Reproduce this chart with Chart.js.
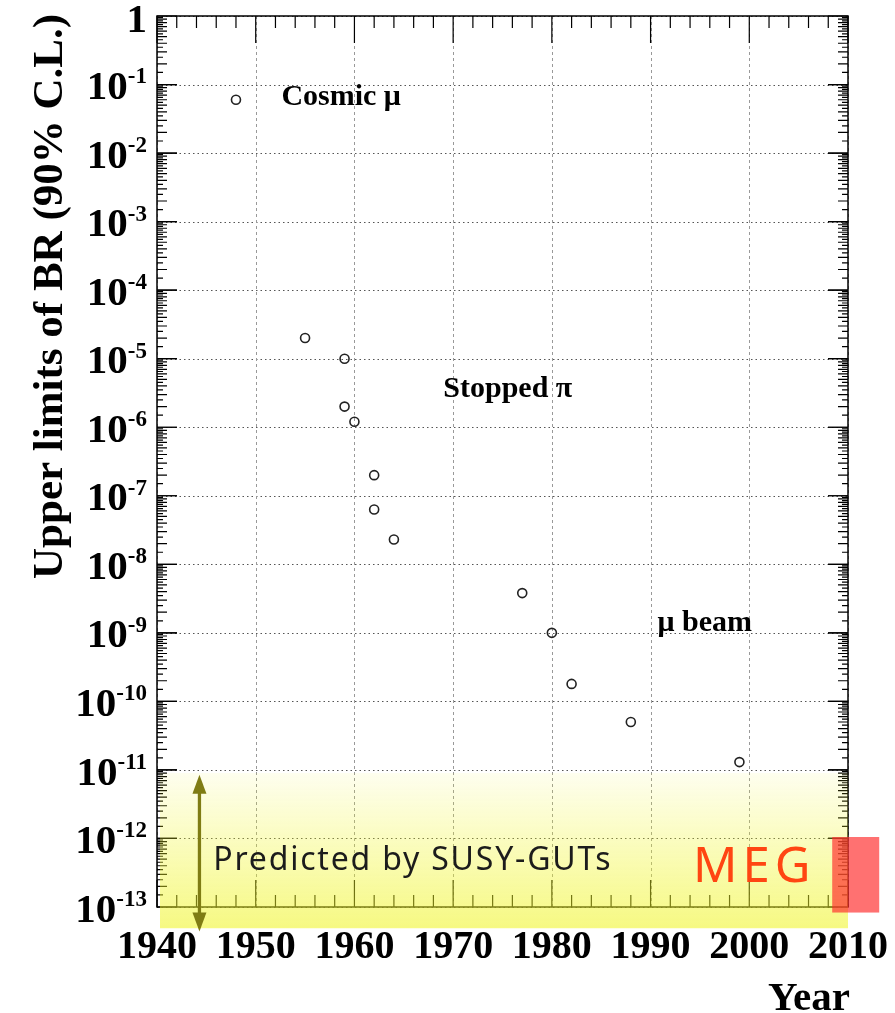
<!DOCTYPE html>
<html>
<head>
<meta charset="utf-8">
<script src="https://cdn.jsdelivr.net/npm/chart.js@4"></script>
<style>
  html, body { margin: 0; padding: 0; background: #fff; }
  #wrap { width: 895px; height: 1013px; }
</style>
</head>
<body>
<div id="wrap"><canvas id="brChart" width="895" height="1013"></canvas></div>
<script>
  // Upper limits of BR(mu -> e gamma) by year
  const years  = [1948, 1955, 1959, 1959, 1960, 1962, 1962, 1964, 1977, 1980, 1982, 1988, 1999];
  const limits = [6e-2, 2e-5, 1e-5, 2e-6, 1.2e-6, 2e-7, 6.3e-8, 2.3e-8, 3.8e-9, 1e-9, 1.8e-10, 5e-11, 1.3e-11];

  const xTicks = [1940, 1950, 1960, 1970, 1980, 1990, 2000, 2010];
  const yExponents = [0, -1, -2, -3, -4, -5, -6, -7, -8, -9, -10, -11, -12, -13];

  // text labels placed in data coordinates
  const labelText = ['Cosmic \u03bc', 'Stopped \u03c0', '\u03bc beam'];
  const labelYear = [1952.6, 1969.0, 1990.7];
  const labelBR   = [6.6e-2, 3.6e-6, 1.4e-9];

  const serif = '"Liberation Serif", "Times New Roman", serif';
  const sans = '"Noto Sans", "Open Sans", sans-serif';

  const decorPlugin = {
    id: 'rootStyle',
    beforeDatasetsDraw(chart) {
      const { ctx, chartArea: a, scales: { x, y } } = chart;
      ctx.save();
      // horizontal dotted grid at decades
      ctx.strokeStyle = '#555';
      ctx.lineWidth = 1;
      ctx.setLineDash([1.5, 3]);
      yExponents.forEach(e => {
        const py = Math.round(y.getPixelForValue(Math.pow(10, e))) + 0.5;
        ctx.beginPath(); ctx.moveTo(a.left, py); ctx.lineTo(a.right, py); ctx.stroke();
      });
      // vertical dashed grid at decades of years
      ctx.strokeStyle = '#999';
      ctx.setLineDash([3, 3]);
      xTicks.forEach(t => {
        const px = Math.round(x.getPixelForValue(t)) + 0.5;
        ctx.beginPath(); ctx.moveTo(px, a.top); ctx.lineTo(px, a.bottom); ctx.stroke();
      });
      ctx.restore();
    },
    afterDatasetsDraw(chart) {
      const { ctx, chartArea: a, scales: { x, y } } = chart;
      ctx.save();
      ctx.strokeStyle = '#000';
      ctx.lineWidth = 1.5;
      ctx.strokeRect(a.left, a.top, a.right - a.left, a.bottom - a.top);

      // y ticks (log), both sides, inward
      ctx.lineWidth = 1.2;
      for (let e = 0; e > -13; e--) {
        const base = Math.pow(10, e - 1);
        for (let m = 1; m <= 10; m += 0.5) {
          const py = y.getPixelForValue(m * base);
          let len = (m % 1 === 0) ? 10 : 6;
          if (m === 1 || m === 10) len = 20;
          ctx.beginPath();
          ctx.moveTo(a.left, py); ctx.lineTo(a.left + len, py);
          ctx.moveTo(a.right, py); ctx.lineTo(a.right - len, py);
          ctx.stroke();
        }
      }
      // x ticks every 2 years, bottom and top, inward
      for (let t = 1940; t <= 2010; t += 2) {
        const px = x.getPixelForValue(t);
        const len = (t % 10 === 0) ? 27 : 12;
        ctx.beginPath();
        ctx.moveTo(px, a.bottom); ctx.lineTo(px, a.bottom - len);
        ctx.moveTo(px, a.top); ctx.lineTo(px, a.top + len);
        ctx.stroke();
      }

      // y tick labels 1, 10^-n
      ctx.fillStyle = '#000';
      ctx.textBaseline = 'middle';
      yExponents.forEach(e => {
        const py = y.getPixelForValue(Math.pow(10, e));
        const rightX = 147;
        if (e === 0) {
          ctx.font = 'bold 41px ' + serif;
          ctx.textAlign = 'right';
          ctx.fillText('1', rightX, py + 5);
          return;
        }
        ctx.font = 'bold 23px ' + serif;
        const sup = '-' + (-e);
        const sw = ctx.measureText(sup).width;
        ctx.textAlign = 'left';
        ctx.fillText(sup, rightX - sw, py - 7);
        ctx.font = 'bold 41px ' + serif;
        ctx.textAlign = 'right';
        ctx.fillText('10', rightX - sw, py + 4);
      });

      // x tick labels
      ctx.font = 'bold 40px ' + serif;
      ctx.textAlign = 'center';
      ctx.textBaseline = 'alphabetic';
      xTicks.forEach(t => {
        ctx.fillText(String(t), x.getPixelForValue(t), 958);
      });
      ctx.textAlign = 'right';
      ctx.font = 'bold 41px ' + serif;
      ctx.fillText('Year', 850, 1010);

      // y title
      ctx.save();
      ctx.translate(62, 14);
      ctx.rotate(-Math.PI / 2);
      ctx.textAlign = 'right';
      ctx.font = 'bold 43px ' + serif;
      ctx.fillText('Upper limits of BR (90% C.L.)', 0, 0);
      ctx.restore();

      // region labels
      ctx.font = 'bold 30px ' + serif;
      ctx.textAlign = 'left';
      ctx.textBaseline = 'middle';
      labelText.forEach((s, i) => {
        ctx.fillText(s, x.getPixelForValue(labelYear[i]), y.getPixelForValue(labelBR[i]));
      });
      ctx.restore();
    },
    afterDraw(chart) {
      const { ctx, chartArea: a, scales: { x, y } } = chart;
      ctx.save();
      // SUSY-GUT band (semi transparent, over the frame)
      const bTop = y.getPixelForValue(9e-12);
      const bBot = y.getPixelForValue(4.9e-14);
      const g = ctx.createLinearGradient(0, bTop, 0, bBot);
      g.addColorStop(0, 'rgba(240,245,40,0.08)');
      g.addColorStop(1, 'rgba(240,245,40,0.58)');
      ctx.fillStyle = g;
      ctx.fillRect(a.left + 3, bTop, a.right - a.left - 3, bBot - bTop);

      // double arrow
      const ax = x.getPixelForValue(1944.3);
      const aTop = y.getPixelForValue(8.5e-12);
      const aBot = y.getPixelForValue(4.4e-14);
      ctx.strokeStyle = '#7f7c14';
      ctx.fillStyle = '#7f7c14';
      ctx.lineWidth = 3.3;
      ctx.beginPath(); ctx.moveTo(ax, aTop + 15); ctx.lineTo(ax, aBot - 15); ctx.stroke();
      ctx.beginPath(); ctx.moveTo(ax, aTop); ctx.lineTo(ax - 7, aTop + 19); ctx.lineTo(ax + 7, aTop + 19); ctx.closePath(); ctx.fill();
      ctx.beginPath(); ctx.moveTo(ax, aBot); ctx.lineTo(ax - 7, aBot - 19); ctx.lineTo(ax + 7, aBot - 19); ctx.closePath(); ctx.fill();

      ctx.fillStyle = '#1c1c1c';
      ctx.font = '32px ' + sans;
      ctx.letterSpacing = '1.8px';
      ctx.textAlign = 'left';
      ctx.textBaseline = 'alphabetic';
      ctx.fillText('Predicted by SUSY-GUTs', x.getPixelForValue(1945.7), 870);

      // MEG
      ctx.fillStyle = 'rgba(255,45,45,0.68)';
      const mx0 = x.getPixelForValue(2008.4);
      const my0 = y.getPixelForValue(1.05e-12);
      ctx.fillRect(mx0, my0, 47, y.getPixelForValue(8.3e-14) - my0);
      ctx.fillStyle = '#ff4512';
      ctx.font = '49px ' + sans;
      ctx.letterSpacing = '5px';
      ctx.fillText('MEG', x.getPixelForValue(1994.3), 882);
      ctx.restore();
    }
  };

  new Chart(document.getElementById('brChart'), {
    type: 'scatter',
    data: {
      datasets: [{
        data: years.map((yr, i) => ({ x: yr, y: limits[i] })),
        pointRadius: 4.5,
        pointBorderWidth: 1.6,
        pointBorderColor: '#222',
        pointBackgroundColor: 'rgba(255,255,255,0)'
      }]
    },
    options: {
      responsive: false,
      animation: false,
      layout: { padding: { left: 157, top: 16, right: 47, bottom: 106 } },
      scales: {
        x: { type: 'linear', min: 1940, max: 2010, display: false },
        y: { type: 'logarithmic', min: 1e-13, max: 1, display: false }
      },
      plugins: {
        legend: { display: false },
        tooltip: { enabled: false }
      }
    },
    plugins: [decorPlugin]
  });
</script>
</body>
</html>
